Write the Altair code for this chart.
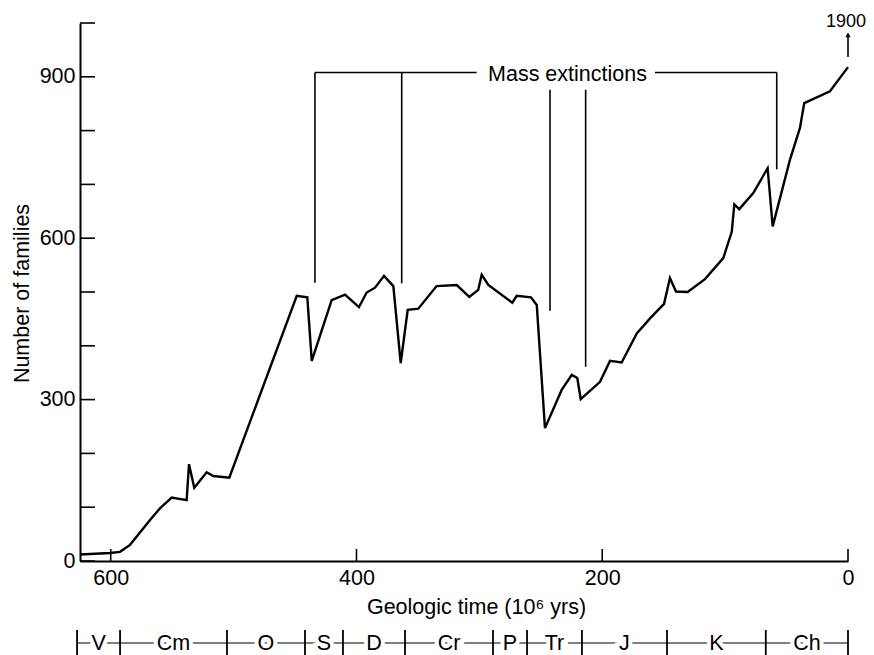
import altair as alt
import pandas as pd

# ---- data ----
time_myr = [625, 600.6, 592.4, 584.3, 568.0, 559.9, 550.4, 538.2, 536.3, 532.0, 521.9, 516.5, 503.5,
            448.6, 440.0, 436.4, 420.2, 409.3, 398.0, 391.7, 384.9, 377.6, 370.0, 364.0, 358.3, 349.7,
            334.8, 318.4, 308.2, 300.9, 298.1, 292.7, 273.2, 269.6, 258.0, 253.3, 246.6, 233.0, 224.8,
            220.3, 217.5, 201.8, 193.7,
            184.2, 171.9, 161.1, 149.7, 144.9, 140.0, 130.5, 116.4, 101.5,
            94.6, 92.5, 88.5, 77.1, 65.4, 61.3, 47.2, 39.1, 35.6, 14.7, 0]
families = [12, 15, 17, 30, 76, 98, 118, 113, 180, 136, 165, 158, 155,
            493, 490, 372, 485, 495, 472, 499, 508, 530, 511, 368, 467, 469,
            511, 513, 491, 504, 532, 513, 480, 493, 490, 476, 247, 318, 346,
            340, 301, 333, 372,
            369, 423, 451, 478, 526, 501, 500, 524, 563,
            612, 663, 654, 684, 730, 622, 746, 805, 851, 873, 918]

extinction_time = [433.8, 363.2, 242.5, 213.5, 58.0]
extinction_top = [908, 908, 876, 876, 908]
extinction_bottom = [517, 516, 465, 361, 728]
bracket_start = [433.8, 157.1]
bracket_end = [302.2, 58.0]
bracket_level = 908
label_text = "Mass extinctions"
label_time = 228.3
label_level = 904

period_bounds = [627.4, 592.4, 505.4, 441.9, 411.0, 360.5, 288.9, 261.2, 216.5, 147.3, 66.9, 0.0]
period_labels = ["V", "Cm", "O", "S", "D", "Cr", "P", "Tr", "J", "K", "Ch"]

y_ticks = [0, 100, 200, 300, 400, 500, 600, 700, 800, 900, 1000]
y_labels = [0, 300, 600, 900]
x_ticks = [600, 400, 200, 0]

FONT = "Liberation Sans"
FS = 21.5
W, H = 768, 538

xs = alt.Scale(domain=[625, 0], nice=False, zero=False)
ys = alt.Scale(domain=[0, 1000], nice=False, zero=False)

x_axis = alt.Axis(
    values=x_ticks, ticks=False, grid=False, domainColor="black", domainWidth=2,
    labelFont=FONT, labelFontSize=FS, labelColor="black", labelPadding=6,
    labelFlush=False, labelOverlap=False,
    title="Geologic time (10\u2076 yrs)", titleFont=FONT, titleFontSize=FS,
    titleFontWeight="normal", titleColor="black", titleX=396, titleY=46,
    titleAlign="center", titleBaseline="middle")
y_axis = alt.Axis(
    values=y_labels, ticks=False, grid=False, domainColor="black", domainWidth=2,
    labelFont=FONT, labelFontSize=FS, labelColor="black", labelPadding=5,
    labelOverlap=False,
    title="Number of families", titleFont=FONT, titleFontSize=FS,
    titleFontWeight="normal", titleColor="black", titleX=-58, titleY=270,
    titleAngle=-90, titleAlign="center", titleBaseline="middle")


def X():
    return alt.X("t:Q", scale=xs, axis=x_axis)


def Y():
    return alt.Y("v:Q", scale=ys, axis=y_axis)


series = pd.DataFrame({"t": time_myr, "v": families})

line = alt.Chart(series).mark_line(color="black", strokeWidth=2.4, strokeJoin="miter").encode(
    x=X(), y=Y(), order=alt.Order("t:Q", sort="descending"))

# inward ticks
ytick = alt.Chart(pd.DataFrame({"v": y_ticks})).mark_rule(color="black", strokeWidth=1.6).encode(
    y=Y(), x=alt.value(0), x2=alt.value(15))
xtick = alt.Chart(pd.DataFrame({"t": x_ticks})).mark_rule(color="black", strokeWidth=1.6).encode(
    x=X(), y=alt.value(H), y2=alt.value(H - 12))

# mass extinction annotation
ext = pd.DataFrame({"t": extinction_time, "v": extinction_top, "v2": extinction_bottom})
ext_rules = alt.Chart(ext).mark_rule(color="black", strokeWidth=1.6).encode(
    x=X(), y=Y(), y2="v2:Q")
br = pd.DataFrame({"t": bracket_start, "t2": bracket_end, "v": [bracket_level] * len(bracket_start)})
br_rules = alt.Chart(br).mark_rule(color="black", strokeWidth=1.6).encode(
    x=X(), x2="t2:Q", y=Y())
ext_text = alt.Chart(pd.DataFrame({"t": [label_time], "v": [label_level], "s": [label_text]})).mark_text(
    font=FONT, fontSize=FS, color="black", baseline="middle", align="center").encode(
    x=X(), y=Y(), text="s:N")

# 1900 off-scale marker
top_text = alt.Chart(pd.DataFrame({"t": [1.6], "v": [1002], "s": ["1900"]})).mark_text(
    font=FONT, fontSize=18, color="black", baseline="middle", align="center").encode(
    x=X(), y=Y(), text="s:N")
arrow_shaft = alt.Chart(pd.DataFrame({"t": [0.0], "v": [937], "v2": [976]})).mark_rule(
    color="black", strokeWidth=1.6).encode(x=X(), y=Y(), y2="v2:Q")
arrow_head = alt.Chart(pd.DataFrame({"t": [0.0], "v": [978]})).mark_point(
    shape="triangle-up", filled=True, color="black", size=28, opacity=1).encode(x=X(), y=Y())

# geologic period bar
per_line = alt.Chart(pd.DataFrame({"t": [period_bounds[0]], "t2": [period_bounds[-1]]})).mark_rule(
    color="black", strokeWidth=1.2).encode(x=X(), x2="t2:Q", y=alt.value(620))
per_ticks = alt.Chart(pd.DataFrame({"t": period_bounds})).mark_rule(color="black", strokeWidth=1.8).encode(
    x=X(), y=alt.value(607), y2=alt.value(632))
mids = [(a + b) / 2 for a, b in zip(period_bounds[:-1], period_bounds[1:])]
per_df = pd.DataFrame({"t": mids, "s": period_labels})
per_halo = alt.Chart(per_df).mark_text(
    font=FONT, fontSize=FS, color="white", stroke="white", strokeWidth=8,
    baseline="middle", align="center").encode(x=X(), y=alt.value(621), text="s:N")
per_text = alt.Chart(per_df).mark_text(
    font=FONT, fontSize=FS, color="black", baseline="middle", align="center").encode(
    x=X(), y=alt.value(621), text="s:N")

chart = alt.layer(
    line, ytick, xtick, ext_rules, br_rules, ext_text, top_text, arrow_shaft, arrow_head,
    per_line, per_ticks, per_halo, per_text
).properties(
    width=W, height=H,
    autosize=alt.AutoSizeParams(type="none"),
    padding={"left": 80, "top": 23, "right": 26, "bottom": 94},
    background="white",
).configure_view(stroke=None)

chart.save("out.html", embed_options={"renderer": "svg", "actions": False})
